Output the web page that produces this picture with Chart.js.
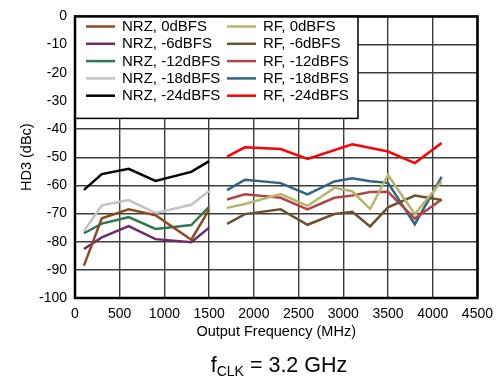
<!DOCTYPE html>
<html>
<head>
<meta charset="utf-8">
<script src="https://cdn.jsdelivr.net/npm/chart.js@4"></script>
<style>
html, body { margin: 0; padding: 0; background: #fff; }
</style>
</head>
<body>
<canvas id="hd3Chart" width="501" height="377"></canvas>
<script>
// Frecuencias de salida (MHz)
const nrzFreq = [100, 300, 600, 900, 1300, 1500];
const rfFreq = [1700, 1900, 2300, 2600, 2900, 3100, 3300, 3500, 3800, 4100];

// HD3 (dBc) - modo NRZ
const nrz0 = [-88.5, -71.7, -68.5, -70.6, -79.3, -68.6];
const nrz6 = [-82.6, -78.5, -74.5, -79.1, -80.2, -75.0];
const nrz12 = [-77.0, -73.6, -71.3, -75.5, -74.1, -67.6];
const nrz18 = [-76.2, -67.1, -65.2, -69.8, -66.9, -62.0];
const nrz24 = [-61.6, -56.0, -54.1, -58.4, -55.2, -51.4];

// HD3 (dBc) - modo RF
const rf0 = [-68.0, -66.6, -63.1, -67.3, -60.9, -62.1, -68.4, -56.3, -70.2, -58.6];
const rf6 = [-73.7, -70.2, -68.5, -74.0, -70.2, -69.4, -74.6, -67.8, -63.6, -65.2];
const rf12 = [-65.0, -63.2, -64.4, -68.5, -64.4, -63.6, -62.4, -62.3, -71.8, -65.0];
const rf18 = [-61.7, -58.0, -59.2, -63.2, -58.6, -57.5, -58.5, -59.1, -73.8, -57.0];
const rf24 = [-49.8, -46.5, -47.1, -50.6, null, -45.4, null, -48.0, -52.1, -45.0];

// Etiquetas de los ejes
const xTicks = [0, 500, 1000, 1500, 2000, 2500, 3000, 3500, 4000, 4500];
const yTicks = [0, -10, -20, -30, -40, -50, -60, -70, -80, -90, -100];

const FONT = "'Liberation Sans', Arial, sans-serif";

function serie(label, xs, ys, color) {
    return {
        label: label,
        data: xs.map((x, i) => ({ x: x, y: ys[i] })),
        borderColor: color,
        backgroundColor: color,
        borderWidth: 2.5,
        pointRadius: 0,
        tension: 0,
        spanGaps: true
    };
}

const datasets = [
    serie("NRZ, 0dBFS", nrzFreq, nrz0, '#8f4a1d'),
    serie("NRZ, -6dBFS", nrzFreq, nrz6, '#6b2c6e'),
    serie("NRZ, -12dBFS", nrzFreq, nrz12, '#2f7a50'),
    serie("NRZ, -18dBFS", nrzFreq, nrz18, '#c3c3c3'),
    serie("NRZ, -24dBFS", nrzFreq, nrz24, '#000000'),
    serie("RF, 0dBFS", rfFreq, rf0, '#b9b46c'),
    serie("RF, -6dBFS", rfFreq, rf6, '#6d5230'),
    serie("RF, -12dBFS", rfFreq, rf12, '#b24545'),
    serie("RF, -18dBFS", rfFreq, rf18, '#2f6482'),
    serie("RF, -24dBFS", rfFreq, rf24, '#ff0000')
];

// Leyenda en dos columnas, marco y subtítulo
const leyenda = {
    id: 'leyenda',
    afterDraw(chart) {
        const { ctx, chartArea: a } = chart;
        ctx.save();
        ctx.fillStyle = '#fff';
        ctx.fillRect(a.left, a.top, 283, 102);
        ctx.strokeStyle = '#000';
        ctx.lineWidth = 1.5;
        ctx.strokeRect(a.left, a.top, 283, 102);
        ctx.lineWidth = 2.5;
        ctx.strokeRect(a.left, a.top, a.right - a.left, a.bottom - a.top);
        ctx.font = '15px ' + FONT;
        ctx.textBaseline = 'middle';
        ctx.textAlign = 'left';
        chart.data.datasets.forEach((ds, i) => {
            const col = Math.floor(i / 5);
            const row = i % 5;
            const y = 26.5 + row * 17.3;
            const x0 = col === 0 ? 86 : 227;
            ctx.strokeStyle = ds.borderColor;
            ctx.lineWidth = 2.5;
            ctx.beginPath();
            ctx.moveTo(x0, y);
            ctx.lineTo(x0 + 29, y);
            ctx.stroke();
            ctx.fillStyle = '#000';
            ctx.fillText(ds.label, x0 + 36, y + 0.5);
        });
        // f_CLK = 3.2 GHz
        const big = '21.5px ' + FONT;
        const small = '14px ' + FONT;
        ctx.font = big;
        const wf = ctx.measureText('f').width;
        const wr = ctx.measureText(' = 3.2 GHz').width;
        ctx.font = small;
        const ws = ctx.measureText('CLK').width;
        let x = 279 - (wf + ws + wr) / 2;
        ctx.textBaseline = 'alphabetic';
        ctx.font = big;
        ctx.fillText('f', x, 372);
        x += wf;
        ctx.font = small;
        ctx.fillText('CLK', x, 376);
        x += ws;
        ctx.font = big;
        ctx.fillText(' = 3.2 GHz', x, 372);
        ctx.restore();
    }
};

const config = {
    type: 'line',
    data: { datasets: datasets },
    options: {
        responsive: false,
        animation: false,
        layout: { padding: { left: 0, top: 11, right: 21, bottom: 0 } },
        plugins: {
            legend: { display: false },
            tooltip: { enabled: false }
        },
        scales: {
            x: {
                type: 'linear',
                min: 0,
                max: 4500,
                afterBuildTicks: s => { s.ticks = xTicks.map(v => ({ value: v })); },
                afterFit: s => { s.height = 79; },
                ticks: { color: '#000', font: { size: 14, family: FONT }, padding: 8, maxRotation: 0, autoSkip: false, callback: v => String(v) },
                grid: { color: '#3c3c3c', lineWidth: 1.4, drawTicks: false },
                border: { display: false },
                title: {
                    display: true,
                    text: 'Output Frequency (MHz)',
                    color: '#000',
                    font: { size: 14.5, family: FONT },
                    padding: { top: 0, bottom: 36 }
                }
            },
            y: {
                type: 'linear',
                min: -100,
                max: 0,
                afterBuildTicks: s => { s.ticks = yTicks.map(v => ({ value: v })); },
                afterFit: s => { s.width = 75; },
                ticks: { color: '#000', font: { size: 14, family: FONT }, padding: 8, autoSkip: false, callback: v => String(v) },
                grid: { color: '#3c3c3c', lineWidth: 1.4, drawTicks: false },
                border: { display: false },
                title: {
                    display: true,
                    text: 'HD3 (dBc)',
                    color: '#000',
                    font: { size: 14.5, family: FONT },
                    padding: { top: 18, bottom: 0 }
                }
            }
        }
    },
    plugins: [leyenda]
};

window.onload = function() {
    const ctx = document.getElementById('hd3Chart').getContext('2d');
    new Chart(ctx, config);
};
</script>
</body>
</html>
